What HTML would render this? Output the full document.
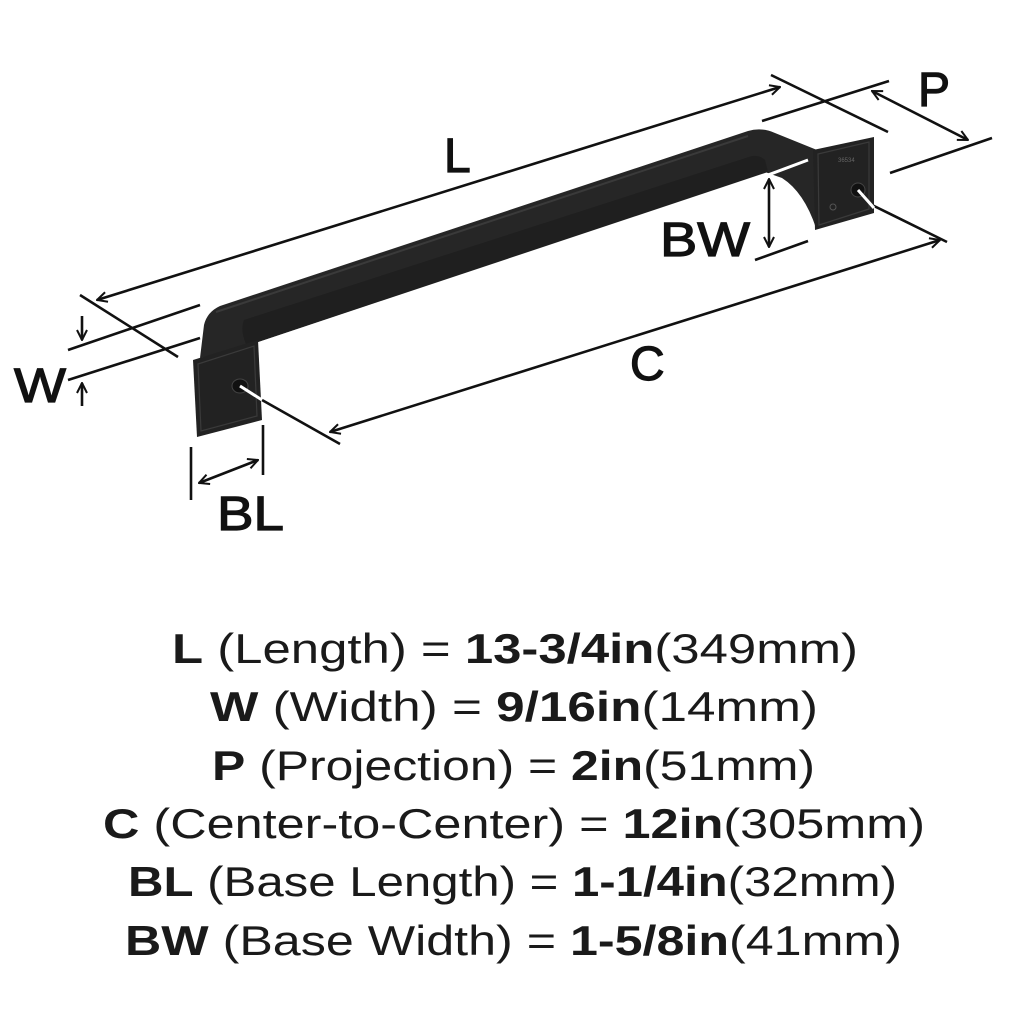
<!DOCTYPE html>
<html><head><meta charset="utf-8"><style>
html,body{margin:0;padding:0;background:#fff;}
svg{display:block;}
</style></head><body>
<svg width="1024" height="1024" viewBox="0 0 1024 1024" xmlns="http://www.w3.org/2000/svg">
<defs>
<marker id="ah" viewBox="0 0 12 12" refX="11" refY="6" markerWidth="12" markerHeight="12" markerUnits="userSpaceOnUse" orient="auto-start-reverse">
<path d="M1,1 L11,6 L1,11" fill="none" stroke="#111" stroke-width="2"/>
</marker>
</defs>
<g fill="none" stroke="#111" stroke-width="2.6">
<line x1="97" y1="300" x2="780" y2="87" marker-start="url(#ah)" marker-end="url(#ah)"/>
<line x1="80" y1="295" x2="178" y2="357"/>
<line x1="771" y1="75" x2="888" y2="132"/>
<line x1="68" y1="350" x2="200" y2="305"/>
<line x1="68" y1="380" x2="200" y2="338"/>
<line x1="82" y1="316" x2="82" y2="340" marker-end="url(#ah)"/>
<line x1="82" y1="406" x2="82" y2="383" marker-end="url(#ah)"/>
<line x1="191" y1="447" x2="191" y2="500"/>
<line x1="263" y1="425" x2="263" y2="475"/>
<line x1="199" y1="483" x2="258" y2="460" marker-start="url(#ah)" marker-end="url(#ah)"/>
<line x1="330" y1="432" x2="940" y2="240" marker-start="url(#ah)" marker-end="url(#ah)"/>
<line x1="262" y1="400" x2="340" y2="444"/>
<line x1="872" y1="205" x2="947" y2="242"/>
<line x1="762" y1="121" x2="889" y2="81"/>
<line x1="872" y1="91" x2="968" y2="140" marker-start="url(#ah)" marker-end="url(#ah)"/>
<line x1="890" y1="173" x2="992" y2="138"/>
<line x1="769" y1="179" x2="769" y2="247" marker-start="url(#ah)" marker-end="url(#ah)"/>
<line x1="755" y1="260" x2="808" y2="241"/>
</g>
<path d="M200,358 L204,325 Q207,312 220,306 L748,131 Q762,127 775,133 L822,152 L816,228 Q804,192 782,178 L765,172 L258,342 Z" fill="#262626"/>
<path d="M244,320 L752,156 Q760,155 765,160 L768,172 L258,342 L246,344 Q240,330 244,320 Z" fill="#1f1f1f"/>
<path d="M216,312 L748,136" stroke="#3a3a3a" stroke-width="2" fill="none"/>
<line x1="760" y1="178" x2="808" y2="160" stroke="#fff" stroke-width="3"/>
<path d="M193,360 L258,340 L262,420 L197,437 Z" fill="#222"/>
<path d="M198,364 L254,346 L257,416 L201,431 Z" fill="none" stroke="#3a3a3a" stroke-width="1.2"/>
<ellipse cx="240" cy="386" rx="8" ry="7" fill="#111" stroke="#444"/>
<line x1="240" y1="386" x2="262" y2="400" stroke="#fff" stroke-width="3"/>
<path d="M813,150 L874,137 L874,213 L815,230 Z" fill="#222"/>
<path d="M818,154 L869,142 L869,209 L819,225 Z" fill="none" stroke="#3a3a3a" stroke-width="1.2"/>
<ellipse cx="858" cy="190" rx="7" ry="7" fill="#111" stroke="#444"/>
<line x1="858" y1="190" x2="874" y2="208" stroke="#fff" stroke-width="3"/>
<text x="838" y="162" font-family="Liberation Sans, sans-serif" font-size="6" fill="#666">36534</text>
<circle cx="833" cy="207" r="3" fill="none" stroke="#555"/>
<g font-family="Liberation Sans, sans-serif" font-size="48" fill="#111" stroke="#111" stroke-width="1.2">
<text x="444" y="172">L</text>
<text x="630" y="380">C</text>
<text x="918" y="106">P</text>
<text x="660" y="256" textLength="90" lengthAdjust="spacingAndGlyphs">BW</text>
<text x="14" y="402" textLength="52" lengthAdjust="spacingAndGlyphs">W</text>
<text x="217" y="530" textLength="67" lengthAdjust="spacingAndGlyphs">BL</text>
</g>
<g font-family="Liberation Sans, sans-serif" font-size="42" fill="#1a1a1a">
<text x="172" y="663" textLength="686" lengthAdjust="spacingAndGlyphs"><tspan font-weight="bold">L</tspan> (Length) = <tspan font-weight="bold">13-3/4in</tspan>(349mm)</text>
<text x="210" y="721" textLength="608" lengthAdjust="spacingAndGlyphs"><tspan font-weight="bold">W</tspan> (Width) = <tspan font-weight="bold">9/16in</tspan>(14mm)</text>
<text x="212" y="780" textLength="603" lengthAdjust="spacingAndGlyphs"><tspan font-weight="bold">P</tspan> (Projection) = <tspan font-weight="bold">2in</tspan>(51mm)</text>
<text x="103" y="838" textLength="822" lengthAdjust="spacingAndGlyphs"><tspan font-weight="bold">C</tspan> (Center-to-Center) = <tspan font-weight="bold">12in</tspan>(305mm)</text>
<text x="128" y="896" textLength="769" lengthAdjust="spacingAndGlyphs"><tspan font-weight="bold">BL</tspan> (Base Length) = <tspan font-weight="bold">1-1/4in</tspan>(32mm)</text>
<text x="125" y="955" textLength="777" lengthAdjust="spacingAndGlyphs"><tspan font-weight="bold">BW</tspan> (Base Width) = <tspan font-weight="bold">1-5/8in</tspan>(41mm)</text>
</g>
</svg>
</body></html>
